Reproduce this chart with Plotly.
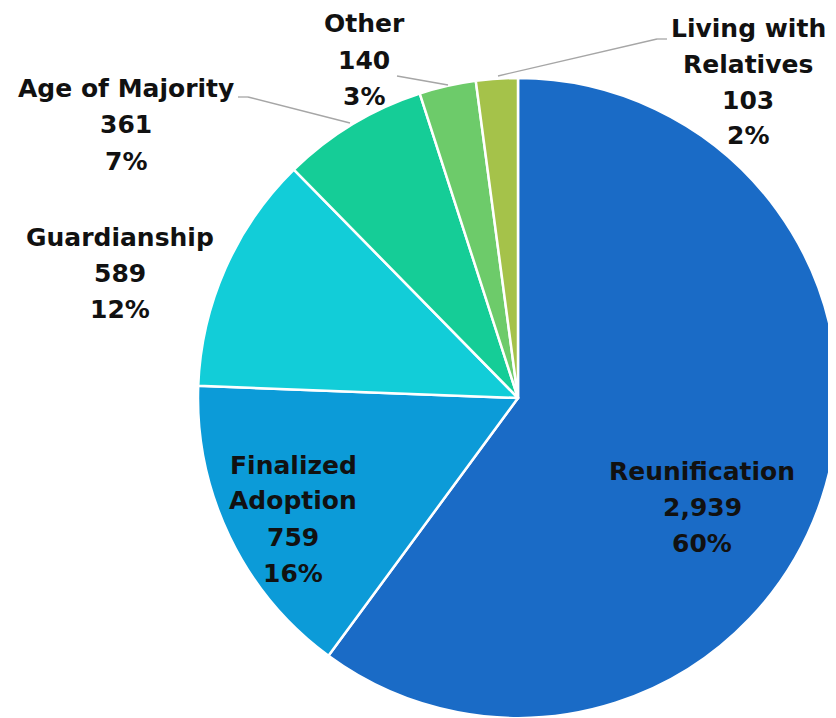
import plotly.graph_objects as go

# ---- data ----
categories = ["Reunification", "Finalized Adoption", "Guardianship",
              "Age of Majority", "Other", "Living with Relatives"]
values = [2939, 759, 589, 361, 140, 103]
colors = ["#1A6BC6", "#0C9BD8", "#12CDD8", "#15CD97", "#6DCB6A", "#A5C24A"]

# label line breaks (display text for each category)
label_lines = [["Reunification"], ["Finalized", "Adoption"], ["Guardianship"],
               ["Age of Majority"], ["Other"], ["Living with", "Relatives"]]

W, H = 836, 718
OFF = 8  # page body margin offset
total = sum(values)

def px_x(x):
    return (x - OFF) / W

def px_y(y):
    return 1 - (y - OFF) / H

fig = go.Figure(go.Pie(
    labels=categories, values=values, sort=False, direction="clockwise",
    rotation=0, textinfo="none", hoverinfo="label+value+percent",
    marker=dict(colors=colors, line=dict(color="white", width=2.5)),
    domain=dict(x=[px_x(198), px_x(838)], y=[px_y(718), px_y(78)]),
    showlegend=False,
))

# label block centres (pixels) and leader lines (pixels) — layout only
label_centres = [(702, 507), (293, 519), (120, 273), (126, 125), (364, 60), (748, 82)]
leaders = {3: [(238, 97), (248, 97), (350, 123)],
           4: [(397, 76), (448, 85)],
           5: [(667, 39), (657, 39), (498, 76)]}

LINE_H = 36
annotations = []
for i, cat in enumerate(categories):
    pct = round(100 * values[i] / total)
    lines = label_lines[i] + [f"{values[i]:,}", f"{pct}%"]
    cx, cy = label_centres[i]
    n = len(lines)
    for k, t in enumerate(lines):
        y = cy + (k - (n - 1) / 2) * LINE_H
        annotations.append(dict(
            x=px_x(cx), y=px_y(y), xref="paper", yref="paper",
            text=f"<b>{t}</b>", showarrow=False, xanchor="center", yanchor="middle",
            font=dict(family="'DejaVu Sans'", size=25, color="#111111")))

shapes = []
for i, pts in leaders.items():
    for (x0, y0), (x1, y1) in zip(pts[:-1], pts[1:]):
        shapes.append(dict(type="line", xref="paper", yref="paper",
                           x0=px_x(x0), y0=px_y(y0), x1=px_x(x1), y1=px_y(y1),
                           line=dict(color="#A6A6A6", width=1.3)))

fig.update_layout(
    width=W, height=H, margin=dict(l=0, r=0, t=0, b=0),
    paper_bgcolor="white", plot_bgcolor="white",
    annotations=annotations, shapes=shapes,
)

fig.write_html("out.html")
